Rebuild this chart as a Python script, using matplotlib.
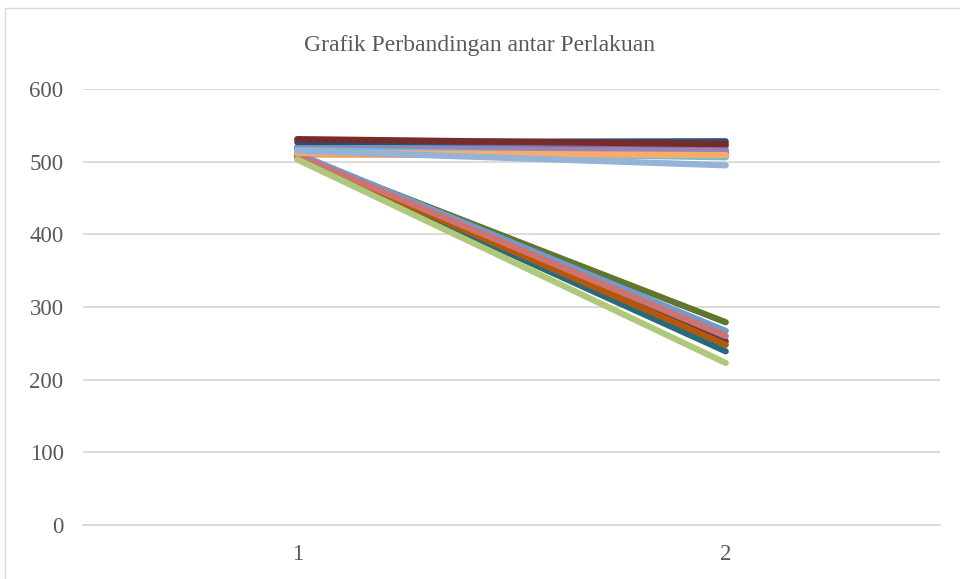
import matplotlib
matplotlib.use("Agg")
import matplotlib.pyplot as plt
from matplotlib.patches import Rectangle

categories = ["1", "2"]
colors = ["#4F81BD", "#C0504D", "#9BBB59", "#8064A2", "#4BACC6", "#F79646",
          "#2C4D75", "#772C2A", "#5F7530", "#4D3B62", "#276A7C", "#B65708",
          "#729ACA", "#CD7371", "#AFC97A", "#9983B5", "#6FBDD1", "#F9AB6B", "#95B3D7"]
series_1 = [518, 520, 515, 519, 520, 510, 527, 531, 508, 507, 506, 507, 511, 508, 503, 518, 516, 512, 515]
series_2 = [512, 515, 510, 521, 513, 508, 528, 524, 279, 253, 239, 248, 267, 260, 223, 515, 506, 509, 495]
yticks = [0, 100, 200, 300, 400, 500, 600]

fig = plt.figure(figsize=(9.6, 5.79), dpi=100)
ax = fig.add_axes([83/960, 1 - 525/579, (940 - 83)/960, (525 - 89)/579])

xs = [1, 2]
for c, a, b in zip(colors, series_1, series_2):
    ax.plot(xs, [a, b], color=c, lw=4.5, solid_capstyle="round", zorder=3)

ax.set_xlim(0.5, 2.5)
ax.set_ylim(0, 600)
ax.set_yticks(yticks)
ax.set_xticks(xs)
ax.set_xticklabels(categories)
ax.yaxis.grid(True, color="#D9D9D9", lw=1.3)
ax.set_axisbelow(True)
for s in ["top", "right", "left"]:
    ax.spines[s].set_visible(False)
ax.spines["bottom"].set_color("#D9D9D9")
ax.spines["bottom"].set_linewidth(1.3)
ax.tick_params(length=0, labelsize=16.5, labelcolor="#595959")
ax.tick_params(axis="y", pad=14)
ax.tick_params(axis="x", pad=13.5)
for lab in ax.get_xticklabels() + ax.get_yticklabels():
    lab.set_family("Liberation Serif")

fig.text(0.5, 1 - 46/579, "Grafik Perbandingan antar Perlakuan", ha="center", va="center",
         fontsize=17, color="#595959", family="Liberation Serif")

fig.patches.append(Rectangle((5/960, -0.1), 1.2, 1 - 8/579 + 0.1, transform=fig.transFigure,
                             fill=False, edgecolor="#D9D9D9", lw=1.0))

fig.savefig("out.png", dpi=100)
